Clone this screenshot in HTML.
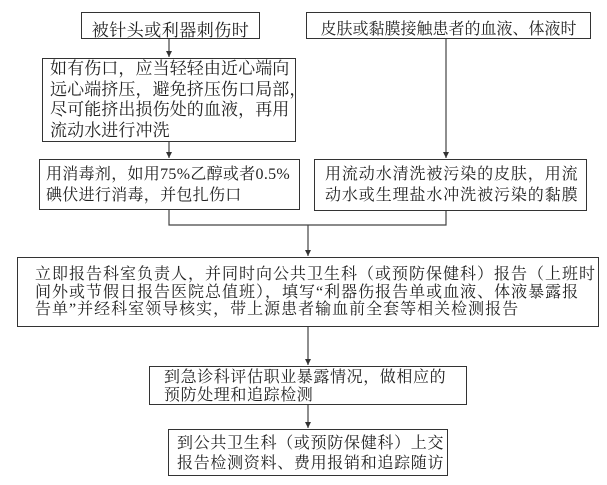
<!DOCTYPE html>
<html><head><meta charset="utf-8"><style>
body{margin:0;width:607px;height:485px;background:#fff;position:relative;overflow:hidden;font-family:"Liberation Serif","Noto Serif CJK SC",serif;color:#222}
.b{position:absolute;border:1.3px solid #333;box-sizing:border-box;font-size:16px;white-space:nowrap}
.b div{position:absolute}
svg{position:absolute;left:0;top:0}
</style></head><body>
<svg width="607" height="485">
<defs><marker id="a" markerWidth="8" markerHeight="8" refX="6" refY="3" orient="auto" markerUnits="userSpaceOnUse"><path d="M0,0 L6,3 L0,6 z" fill="#333"/></marker></defs>
<g stroke="#444" stroke-width="1.2" fill="none">
<line x1="169" y1="39" x2="169" y2="57" marker-end="url(#a)"/>
<line x1="169" y1="142" x2="169" y2="158" marker-end="url(#a)"/>
<line x1="446" y1="39" x2="446" y2="158" marker-end="url(#a)"/>
<polyline points="169,210 169,225 446,225 446,211"/>
<line x1="308" y1="225" x2="308" y2="256" marker-end="url(#a)"/>
<line x1="308" y1="327" x2="308" y2="365" marker-end="url(#a)"/>
<line x1="308" y1="405" x2="308" y2="428" marker-end="url(#a)"/>
</g></svg>
<div class="b" style="left:81px;top:12px;width:179px;height:27px"><div style="left:0;right:0;top:3px;text-align:center;font-size:17px;letter-spacing:0.5px">被针头或利器刺伤时</div></div>
<div class="b" style="left:306px;top:12px;width:285px;height:27px"><div style="left:0;right:0;top:3px;text-align:center">皮肤或黏膜接触患者的血液、体液时</div></div>
<div class="b" style="left:42px;top:58px;width:254px;height:84px"><div style="left:7px;top:0;line-height:20.7px;font-size:17px;letter-spacing:0.1px">如有伤口，应当轻轻由近心端向<br>远心端挤压，避免挤压伤口局部，<br>尽可能挤出损伤处的血液，再用<br>流动水进行冲洗</div></div>
<div class="b" style="left:39px;top:159px;width:261px;height:51px"><div style="left:6px;top:4px;line-height:21px;letter-spacing:0.3px">用消毒剂，如用75%乙醇或者0.5%<br>碘伏进行消毒，并包扎伤口</div></div>
<div class="b" style="left:314px;top:159px;width:273px;height:52px"><div style="left:10px;top:4px;line-height:21px;letter-spacing:0.9px">用流动水清洗被污染的皮肤，用流<br>动水或生理盐水冲洗被污染的黏膜</div></div>
<div class="b" style="left:17px;top:257px;width:582px;height:70px"><div style="left:17px;top:8px;line-height:17.5px;letter-spacing:1px">立即报告科室负责人，并同时向公共卫生科（或预防保健科）报告（上班时<br>间外或节假日报告医院总值班），填写“利器伤报告单或血液、体液暴露报<br>告单”并经科室领导核实，带上源患者输血前全套等相关检测报告</div></div>
<div class="b" style="left:149px;top:366px;width:318px;height:39px"><div style="left:14px;top:2px;line-height:17.5px;letter-spacing:0.6px">到急诊科评估职业暴露情况，做相应的<br>预防处理和追踪检测</div></div>
<div class="b" style="left:168px;top:429px;width:280px;height:47px"><div style="left:8px;top:4px;line-height:20px;letter-spacing:0.7px">到公共卫生科（或预防保健科）上交<br>报告检测资料、费用报销和追踪随访</div></div>
</body></html>
